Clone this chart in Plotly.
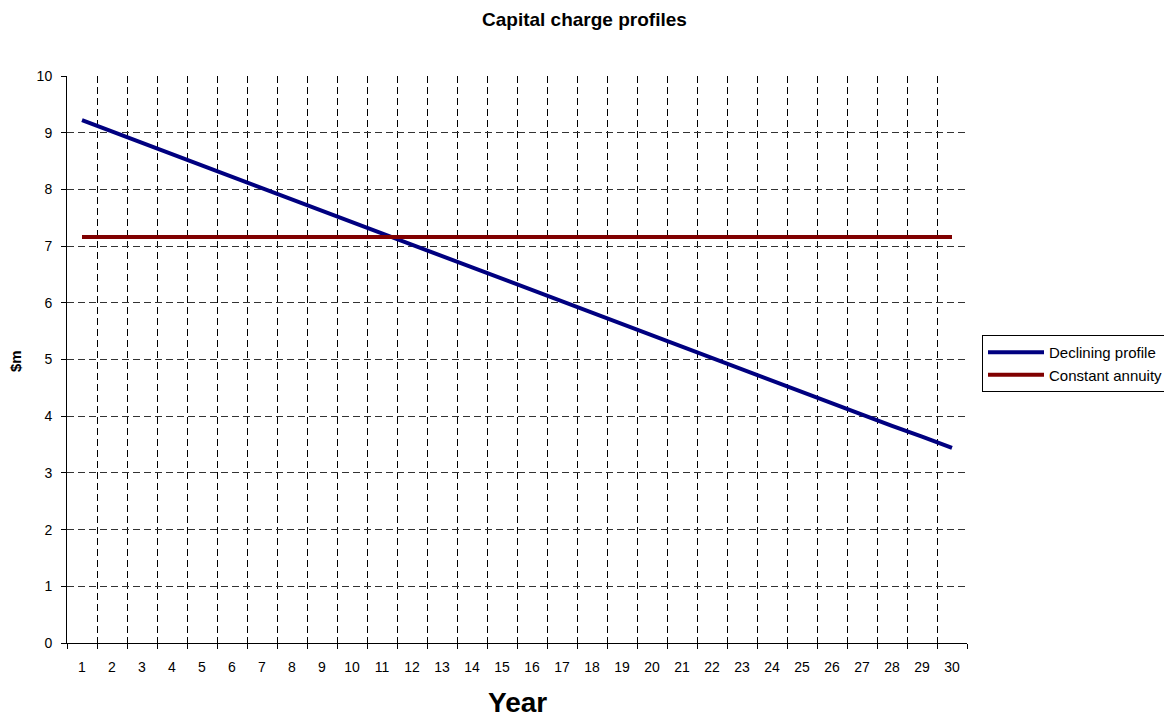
import plotly.graph_objects as go

years = list(range(1, 31))
year_labels = [str(y) for y in years]
declining = [9.22, 9.02, 8.82, 8.62, 8.42, 8.22, 8.02, 7.82, 7.62, 7.42,
             7.22, 7.02, 6.82, 6.62, 6.43, 6.23, 6.03, 5.83, 5.63, 5.43,
             5.23, 5.03, 4.83, 4.63, 4.43, 4.23, 4.03, 3.83, 3.64, 3.44]
constant = [7.16] * 30
y_ticks = list(range(0, 11))
boundaries = [y + 0.5 for y in range(0, 31)]
inner_boundaries = [y + 0.5 for y in range(1, 30)]

FONT = "Arial, Liberation Sans, sans-serif"

fig = go.Figure()
# invisible trace to activate grid axes
fig.add_trace(go.Scatter(x=[None], y=[None], xaxis="x2", yaxis="y2", showlegend=False,
                         hoverinfo="skip"))
fig.add_trace(go.Scatter(x=years, y=declining, mode="lines", name="Declining profile",
                         line=dict(color="#000080", width=4)))
fig.add_trace(go.Scatter(x=years, y=constant, mode="lines", name="Constant annuity",
                         line=dict(color="#800000", width=4)))

fig.update_layout(
    width=1156, height=711,
    margin=dict(l=59, r=197, t=68, b=76, autoexpand=False),
    paper_bgcolor="white", plot_bgcolor="white",
    font=dict(family=FONT, size=14, color="black"),
    showlegend=True,
    legend=dict(xref="container", yref="container", x=974 / 1156, y=1 - 327 / 711,
                xanchor="left", yanchor="top",
                bordercolor="black", borderwidth=1, bgcolor="white",
                font=dict(size=15, family=FONT), tracegroupgap=0, itemwidth=56),
    xaxis=dict(range=[0.5, 30.5], tickmode="array", tickvals=years, ticktext=year_labels,
               ticks="outside", ticklen=11, tickcolor="rgba(0,0,0,0)",
               showgrid=False, zeroline=False, showline=True, linecolor="black", linewidth=1,
               tickfont=dict(size=14),
               minor=dict(tickmode="array", tickvals=boundaries, ticks="outside", ticklen=5,
                          tickcolor="black", showgrid=False)),
    xaxis2=dict(range=[0.5, 30.5], overlaying="x", tickmode="array", tickvals=inner_boundaries,
                showticklabels=False, ticks="", showgrid=True, gridcolor="black", gridwidth=1,
                griddash="7px,4px", zeroline=False, showline=False),
    yaxis=dict(range=[0, 10], tickmode="array", tickvals=y_ticks,
               ticks="outside", ticklen=5, tickcolor="black", ticklabelstandoff=6,
               showgrid=False, zeroline=False, showline=True, linecolor="black", linewidth=1,
               tickfont=dict(size=14)),
    yaxis2=dict(range=[0, 10], overlaying="y", tickmode="array", tickvals=y_ticks[1:-1],
                showticklabels=False, ticks="", showgrid=True, gridcolor="#333333", gridwidth=1,
                griddash="7px,4px", zeroline=False, showline=False),
    annotations=[
        dict(text="<b>Capital charge profiles</b>", xref="paper", yref="paper",
             x=(584 - 67) / 900, y=(643 - 19) / 567, xanchor="center", yanchor="middle",
             showarrow=False, font=dict(size=19, family=FONT)),
        dict(text="<b>Year</b>", xref="paper", yref="paper",
             x=(517 - 67) / 900, y=(643 - 702) / 567, xanchor="center", yanchor="middle",
             showarrow=False, font=dict(size=28, family=FONT)),
        dict(text="<b>$m</b>", xref="paper", yref="paper",
             x=(15 - 67) / 900, y=(643 - 361) / 567, xanchor="center", yanchor="middle",
             textangle=-90, showarrow=False, font=dict(size=15, family=FONT)),
    ],
)

fig.write_html("out.html")
